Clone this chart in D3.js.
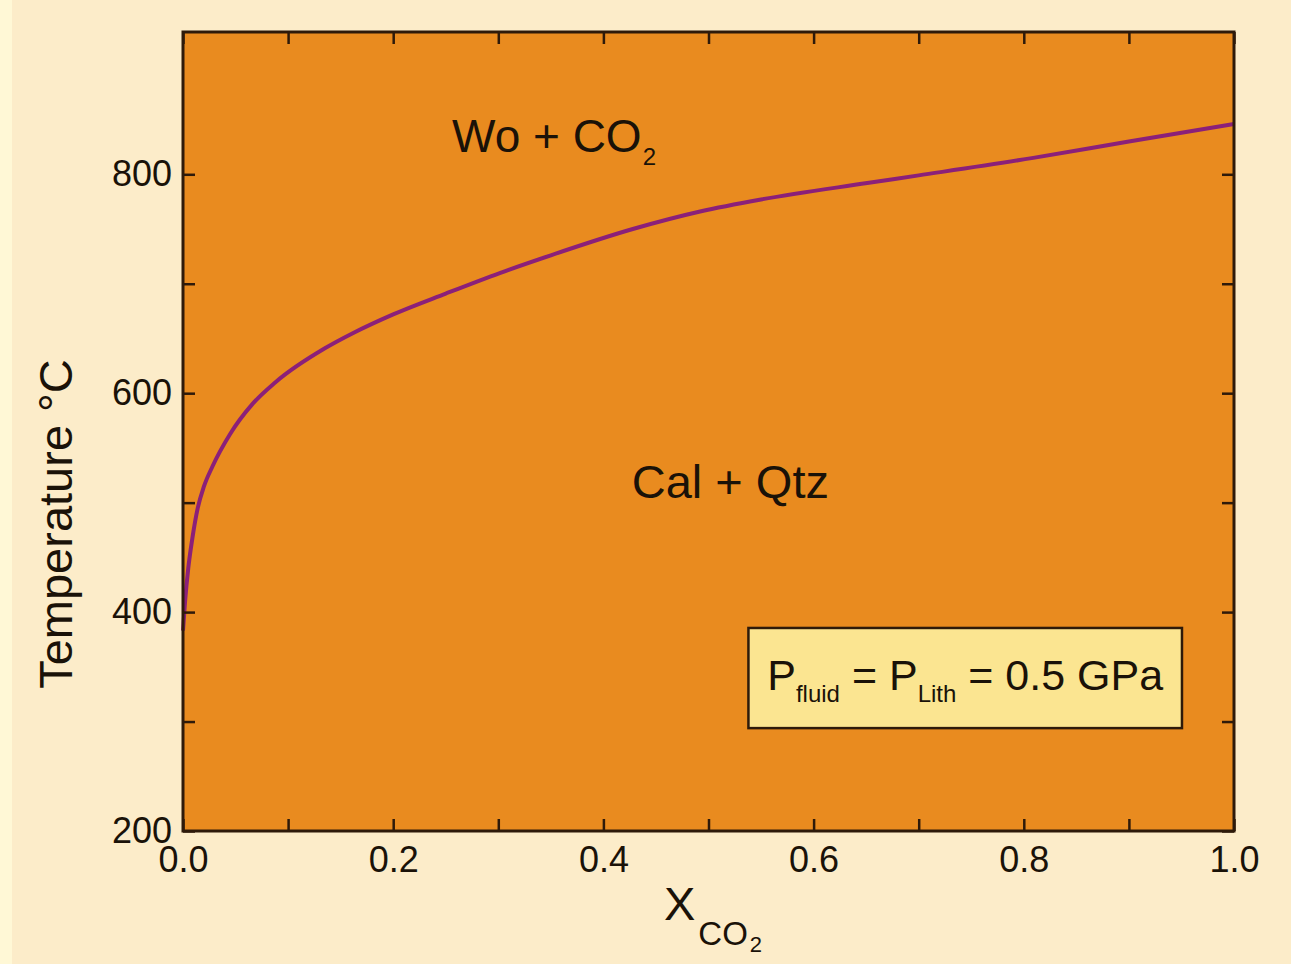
<!DOCTYPE html>
<html lang="en">
<meta charset="utf-8">
<head>
    <script src='https://d3js.org/d3.v7.min.js'></script>
    <style>
        body { margin: 0; background: #fcecc9; }
        text { font-family: "Liberation Sans", Arial, Helvetica, sans-serif; fill: #1a1208; }
    </style>
</head>
<body>
<script>

// curve: T (°C) vs X CO2
var xco2 = [0, 0.002, 0.005, 0.009, 0.014, 0.02, 0.028, 0.045, 0.066, 0.088, 0.135, 0.162,
            0.2, 0.25, 0.302, 0.35, 0.428, 0.492, 0.55, 0.651, 0.7, 0.809, 0.9, 1.0]
var temp = [383, 410, 440, 468, 495, 515, 533, 563, 590, 610, 641, 655,
            672, 691, 710, 726, 750, 766, 777, 792, 799, 815, 830, 846]

var xTicks = [0, 0.1, 0.2, 0.3, 0.4, 0.5, 0.6, 0.7, 0.8, 0.9, 1.0]
var xLabels = [0, 0.2, 0.4, 0.6, 0.8, 1.0]
var yTicks = [200, 300, 400, 500, 600, 700, 800]
var yLabels = [200, 400, 600, 800]

var width = 1291, height = 964
var margin = {left: 183, top: 32}
var w = 1051, h = 799
var font = '"Liberation Sans", Arial, Helvetica, sans-serif'

var svg = d3.select('body')
    .append("svg")
    .attr("width", width)
    .attr("height", height)

svg.append("rect").attr("width", width).attr("height", height).attr("fill", "#fcecc9")
svg.append("rect").attr("width", 12).attr("height", height).attr("fill", "#fff8d6")

var g = svg.append("g")
    .attr("transform", "translate(" + margin.left + "," + margin.top + ")")

var x = d3.scaleLinear().domain([0, 1]).range([0, w])
var y = d3.scaleLinear().domain([200, 930]).range([h, 0])

// plot background
g.append("rect")
    .attr("width", w)
    .attr("height", h)
    .attr("fill", "#e98b1f")

// boundary curve
var data = xco2.map(function(d, i) { return {x: d, y: temp[i]} })
g.append("path")
    .datum(data)
    .attr("fill", "none")
    .attr("stroke", "#8b2079")
    .attr("stroke-width", 4)
    .attr("d", d3.line()
        .x(function(d) { return x(d.x) })
        .y(function(d) { return y(d.y) })
        .curve(d3.curveMonotoneX))

// axes, ticks pointing inward
var fmt = d3.format(".1f")
g.append("g")
    .attr("transform", "translate(0," + h + ")")
    .call(d3.axisBottom(x).tickValues(xTicks).tickSize(-12).tickPadding(15)
        .tickFormat(function(d) {
            return xLabels.some(function(v) { return Math.abs(v - d) < 1e-9 }) ? fmt(d) : ""
        }))
g.append("g")
    .call(d3.axisLeft(y).tickValues(yTicks).tickSize(-12).tickPadding(11)
        .tickFormat(function(d) { return yLabels.indexOf(d) >= 0 ? d : "" }))
g.append("g")
    .call(d3.axisTop(x).tickValues(xTicks).tickSize(-12).tickFormat(""))
g.append("g")
    .attr("transform", "translate(" + w + ",0)")
    .call(d3.axisRight(y).tickValues(yTicks).tickSize(-12).tickFormat(""))

g.selectAll(".domain").remove()
g.selectAll(".tick line").attr("stroke", "#2e1a0a").attr("stroke-width", 2.5)
g.selectAll(".tick text")
    .style("font-family", font)
    .style("font-size", "36px")
    .attr("fill", "#1a1208")

// frame
g.append("rect")
    .attr("width", w)
    .attr("height", h)
    .attr("fill", "none")
    .attr("stroke", "#2e1a0a")
    .attr("stroke-width", 3)

// region labels
var wo = g.append("text")
    .attr("x", x(0.256))
    .attr("y", y(820))
    .style("font-size", "46px")
wo.append("tspan").text("Wo + CO")
wo.append("tspan").text("2").style("font-size", "24px").attr("dy", 13).attr("dx", 1)

g.append("text")
    .attr("x", x(0.427))
    .attr("y", y(504))
    .style("font-size", "47px")
    .text("Cal + Qtz")

// pressure box
var bx0 = x(0.538), bx1 = x(0.9505), by0 = y(385.5), by1 = y(294)
g.append("rect")
    .attr("x", bx0)
    .attr("y", by0)
    .attr("width", bx1 - bx0)
    .attr("height", by1 - by0)
    .attr("fill", "#fbe591")
    .attr("stroke", "#2e1a0a")
    .attr("stroke-width", 2.5)

var pt = g.append("text")
    .attr("x", (bx0 + bx1) / 2)
    .attr("y", by0 + 62)
    .attr("text-anchor", "middle")
    .style("font-size", "43px")
pt.append("tspan").text("P")
pt.append("tspan").text("fluid").style("font-size", "24px").attr("dy", 12)
pt.append("tspan").text(" = P").attr("dy", -12)
pt.append("tspan").text("Lith").style("font-size", "24px").attr("dy", 12)
pt.append("tspan").text(" = 0.5 GPa").attr("dy", -12)

// axis titles
var xt = svg.append("text")
    .attr("x", 664)
    .attr("y", 920)
    .style("font-size", "47px")
xt.append("tspan").text("X")
xt.append("tspan").text("CO").style("font-size", "33px").attr("dy", 25).attr("dx", 3)
xt.append("tspan").text("2").style("font-size", "22px").attr("dy", 7).attr("dx", 2)

svg.append("text")
    .attr("transform", "rotate(-90)")
    .attr("x", -524)
    .attr("y", 72)
    .attr("text-anchor", "middle")
    .style("font-size", "47px")
    .text("Temperature °C")

</script>
</body>
</html>
